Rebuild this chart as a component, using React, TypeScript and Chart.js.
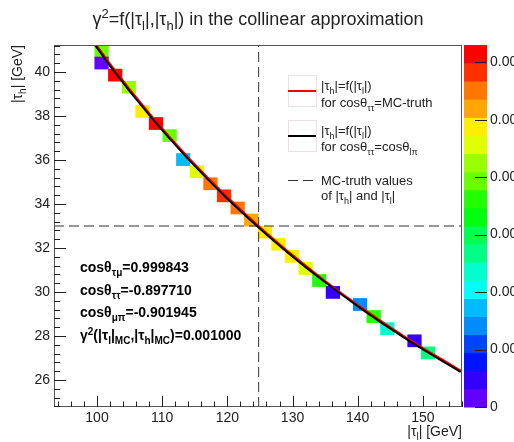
import React, { useEffect, useRef } from 'react';
import { Chart, registerables } from 'chart.js';

Chart.register(...registerables);

// ---- axis ranges / ticks ----
const xRange = [93.4, 156.0];
const yRange = [24.77, 41.23];
const xTicks = [100, 110, 120, 130, 140, 150];
const yTicks = [26, 28, 30, 32, 34, 36, 38, 40];
const xMinorStep = 2;
const yMinorStep = 0.4;

// ---- 2D histogram bins (centres, GeV) and contents ----
const binW = 2.087;
const binH = 0.5487;
const binX = [100.70, 100.70, 102.79, 104.88, 106.97, 109.05, 111.14, 113.23, 115.31, 117.40, 119.49, 121.58, 123.66, 125.75, 127.84, 129.93, 132.01, 134.10, 136.19, 140.36, 142.45, 144.54, 148.71, 150.80];
const binY = [40.96, 40.41, 39.86, 39.31, 38.21, 37.66, 37.11, 36.02, 35.47, 34.92, 34.37, 33.82, 33.27, 32.72, 32.17, 31.62, 31.07, 30.52, 29.98, 29.43, 28.88, 28.33, 27.78, 27.23];
const binZ = [0.000788, 0.000032, 0.001229, 0.000851, 0.000977, 0.001229, 0.000788, 0.000347, 0.000914, 0.001103, 0.001166, 0.001103, 0.001040, 0.000977, 0.000977, 0.000977, 0.000914, 0.000725, 0.000095, 0.000284, 0.000725, 0.000473, 0.000095, 0.000536];

// ---- colour scale ----
const zMax = 0.00126;
const zTicks = [0, 0.0002, 0.0004, 0.0006, 0.0008, 0.001, 0.0012];
const zTickLabels = ['0', '0.0002', '0.0004', '0.0006', '0.0008', '0.0010', '0.0012'];
const palette = ['#6300ff', '#3300ff', '#0014ff', '#0044ff', '#008bff', '#00bbff', '#00fffc', '#00ffcc', '#00ff85', '#00ff55', '#00ff0e', '#22ff00', '#69ff00', '#99ff00', '#e0ff00', '#ffee00', '#ffa700', '#ff7700', '#ff3000', '#ff0000'];

// ---- curves |τh| = f(|τl|) ----
const curveX = [99, 102, 105, 108, 111, 114, 117, 120, 123, 126, 129, 132, 135, 138, 141, 144, 147, 150, 153, 155.8];
const redY = [41.60, 40.37, 39.22, 38.13, 37.10, 36.12, 35.20, 34.32, 33.48, 32.68, 31.92, 31.20, 30.50, 29.84, 29.21, 28.60, 28.01, 27.45, 26.92, 26.43];
const blackY = [41.51, 40.28, 39.13, 38.05, 37.02, 36.04, 35.12, 34.24, 33.41, 32.61, 31.85, 31.13, 30.44, 29.78, 29.14, 28.53, 27.95, 27.39, 26.86, 26.37];

// ---- MC truth ----
const mcTauL = 124.8;
const mcTauH = 33.0;

// ---- texts ----
const titleText = 'γ^{2}=f(|τ_{l}|,|τ_{h}|) in the collinear approximation';
const xTitle = '|τ_{l}| [GeV]';
const yTitle = '|τ_{h}| [GeV]';
const infoLines = [
  'cosθ_{τμ}=0.999843',
  'cosθ_{ττ}=-0.897710',
  'cosθ_{μπ}=-0.901945',
  'γ^{2}(|τ_{l}|_{MC},|τ_{h}|_{MC})=0.001000',
];
const legendRed = ['|τ_{h}|=f(|τ_{l}|)', 'for cosθ_{ττ}=MC-truth'];
const legendBlack = ['|τ_{h}|=f(|τ_{l}|)', 'for cosθ_{ττ}=cosθ_{lπ}'];
const legendDash = ['MC-truth values', 'of |τ_{h}| and |τ_{l}|'];

const FAM = '"Liberation Sans", Arial, Helvetica, sans-serif';

function colorFor(z: number) {
  const i = Math.max(0, Math.min(palette.length - 1, Math.floor((z / zMax) * palette.length)));
  return palette[i];
}

type Seg = { t: string; m: number };
function parseRich(s: string): Seg[] {
  const out: Seg[] = [];
  let i = 0;
  let buf = '';
  while (i < s.length) {
    const c = s[i];
    if ((c === '_' || c === '^') && s[i + 1] === '{') {
      if (buf) { out.push({ t: buf, m: 0 }); buf = ''; }
      const end = s.indexOf('}', i + 2);
      out.push({ t: s.slice(i + 2, end), m: c === '_' ? 1 : 2 });
      i = end + 1;
    } else {
      buf += c;
      i++;
    }
  }
  if (buf) out.push({ t: buf, m: 0 });
  return out;
}

function drawRich(ctx: CanvasRenderingContext2D, s: string, x: number, y: number, size: number,
  opts: { bold?: boolean; align?: string; color?: string; rotate?: number } = {}) {
  const segs = parseRich(s);
  const w = opts.bold ? 'bold ' : '';
  const fontFor = (m: number) => `${w}${m === 0 ? size : Math.round(size * 0.7)}px ${FAM}`;
  let total = 0;
  const widths = segs.map((sg) => {
    ctx.font = fontFor(sg.m);
    const ww = ctx.measureText(sg.t).width;
    total += ww;
    return ww;
  });
  ctx.save();
  ctx.translate(x, y);
  if (opts.rotate) ctx.rotate(opts.rotate);
  let cx = opts.align === 'center' ? -total / 2 : opts.align === 'right' ? -total : 0;
  ctx.fillStyle = opts.color || '#000';
  ctx.textBaseline = 'alphabetic';
  ctx.textAlign = 'left';
  segs.forEach((sg, i) => {
    ctx.font = fontFor(sg.m);
    const dy = sg.m === 1 ? size * 0.3 : sg.m === 2 ? -size * 0.38 : 0;
    ctx.fillText(sg.t, cx, dy);
    cx += widths[i];
  });
  ctx.restore();
}

const decor = {
  id: 'rootDecor',
  beforeDraw(chart: any) {
    const ctx = chart.ctx;
    ctx.save();
    ctx.fillStyle = '#fff';
    ctx.fillRect(0, 0, chart.width, chart.height);
    ctx.restore();
  },
  afterDraw(chart: any) {
    const ctx: CanvasRenderingContext2D = chart.ctx;
    const { left, right, top, bottom } = chart.chartArea;
    const xs = chart.scales.x;
    const ys = chart.scales.y;
    const zs = chart.scales.z;
    ctx.save();

    // frame
    ctx.strokeStyle = '#555';
    ctx.lineWidth = 1;
    ctx.strokeRect(Math.round(left) + 0.5, Math.round(top) + 0.5, Math.round(right - left) - 1, Math.round(bottom - top) - 1);

    // ticks
    ctx.strokeStyle = '#222';
    ctx.beginPath();
    for (let n = Math.ceil(yRange[0] / yMinorStep); n * yMinorStep <= yRange[1]; n++) {
      const v = n * yMinorStep;
      const major = yTicks.some((t) => Math.abs(t - v) < 1e-6);
      const p = Math.round(ys.getPixelForValue(v)) + 0.5;
      ctx.moveTo(left, p);
      ctx.lineTo(left + (major ? 12 : 6), p);
    }
    for (let n = Math.ceil(xRange[0] / xMinorStep); n * xMinorStep <= xRange[1]; n++) {
      const v = n * xMinorStep;
      const major = xTicks.some((t) => Math.abs(t - v) < 1e-6);
      const p = Math.round(xs.getPixelForValue(v)) + 0.5;
      ctx.moveTo(p, bottom);
      ctx.lineTo(p, bottom - (major ? 11 : 5.5));
    }
    ctx.stroke();

    // tick labels
    ctx.fillStyle = '#222';
    ctx.font = `14px ${FAM}`;
    ctx.textBaseline = 'middle';
    ctx.textAlign = 'right';
    yTicks.forEach((t) => ctx.fillText(String(t), left - 4, ys.getPixelForValue(t)));
    ctx.textAlign = 'center';
    xTicks.forEach((t) => ctx.fillText(String(t), xs.getPixelForValue(t), bottom + 11));

    // axis titles
    drawRich(ctx, xTitle, right, bottom + 29, 14, { align: 'right', color: '#222' });
    drawRich(ctx, yTitle, 22, top, 14, { align: 'right', color: '#222', rotate: -Math.PI / 2 });

    // title
    drawRich(ctx, titleText, chart.width / 2 + 1, 25, 18, { align: 'center', color: '#222' });

    // palette
    const px0 = right + 2;
    const px1 = right + 25;
    for (let i = 0; i < palette.length; i++) {
      const z0 = (zMax * i) / palette.length;
      const z1 = (zMax * (i + 1)) / palette.length;
      const y0 = zs.getPixelForValue(z0);
      const y1 = zs.getPixelForValue(z1);
      ctx.fillStyle = palette[i];
      ctx.fillRect(px0, y1, px1 - px0, y0 - y1 + 0.5);
    }
    ctx.strokeStyle = '#222';
    ctx.beginPath();
    zTicks.forEach((z) => {
      const p = Math.round(zs.getPixelForValue(z)) + 0.5;
      ctx.moveTo(px1, p);
      ctx.lineTo(px1 - 12, p);
    });
    ctx.stroke();
    ctx.fillStyle = '#222';
    ctx.font = `14px ${FAM}`;
    ctx.textAlign = 'left';
    ctx.textBaseline = 'middle';
    zTicks.forEach((z, i) => ctx.fillText(zTickLabels[i], px1 + 3, zs.getPixelForValue(z)));

    // legend
    const lx0 = 288;
    const lx1 = 316;
    const tx = 321;
    ctx.strokeStyle = 'rgba(210,170,170,0.35)';
    ctx.lineWidth = 1;
    ctx.strokeRect(lx0 + 0.5, 75.5, lx1 - lx0, 31);
    ctx.strokeRect(lx0 + 0.5, 120.5, lx1 - lx0, 31);
    ctx.lineWidth = 2;
    ctx.strokeStyle = '#ff0000';
    ctx.beginPath(); ctx.moveTo(lx0, 91); ctx.lineTo(lx1, 91); ctx.stroke();
    ctx.strokeStyle = '#000';
    ctx.beginPath(); ctx.moveTo(lx0, 136); ctx.lineTo(lx1, 136); ctx.stroke();
    ctx.lineWidth = 1;
    ctx.strokeStyle = '#333';
    ctx.setLineDash([10, 5]);
    ctx.beginPath(); ctx.moveTo(lx0, 180.5); ctx.lineTo(lx1, 180.5); ctx.stroke();
    ctx.setLineDash([]);
    const ls = 13;
    drawRich(ctx, legendRed[0], tx, 90, ls, { color: '#222' });
    drawRich(ctx, legendRed[1], tx, 107, ls, { color: '#222' });
    drawRich(ctx, legendBlack[0], tx, 135, ls, { color: '#222' });
    drawRich(ctx, legendBlack[1], tx, 151, ls, { color: '#222' });
    drawRich(ctx, legendDash[0], tx, 185, ls, { color: '#222' });
    drawRich(ctx, legendDash[1], tx, 200, ls, { color: '#222' });

    // info text
    const infoY = [272, 295, 317, 340];
    infoLines.forEach((s, i) => drawRich(ctx, s, 80, infoY[i], 14, { bold: true, color: '#000' }));

    ctx.restore();
  },
};

export default function App() {
  const ref = useRef<HTMLCanvasElement | null>(null);
  useEffect(() => {
    document.body.style.margin = '0';
    document.body.style.overflow = 'hidden';
    const canvas = ref.current;
    if (!canvas) return;
    const chart = new Chart(canvas, {
      type: 'bar',
      data: {
        datasets: [
          {
            type: 'line',
            label: 'cosθ_lπ',
            data: curveX.map((x, i) => ({ x, y: blackY[i] })),
            borderColor: '#000000',
            borderWidth: 2,
            pointRadius: 0,
            order: 1,
          },
          {
            type: 'line',
            label: 'MC-truth cosθ_ττ',
            data: curveX.map((x, i) => ({ x, y: redY[i] })),
            borderColor: '#ff0000',
            borderWidth: 2,
            pointRadius: 0,
            order: 2,
          },
          {
            type: 'line',
            label: 'MC |τl|',
            data: [{ x: mcTauL, y: yRange[0] }, { x: mcTauL, y: yRange[1] }],
            borderColor: '#333333',
            borderWidth: 1,
            borderDash: [10, 5],
            pointRadius: 0,
            order: 3,
          },
          {
            type: 'line',
            label: 'MC |τh|',
            data: [{ x: xRange[0], y: mcTauH }, { x: xRange[1], y: mcTauH }],
            borderColor: '#333333',
            borderWidth: 1,
            borderDash: [10, 5],
            pointRadius: 0,
            order: 3,
          },
          {
            type: 'bar',
            label: 'γ²',
            data: binX.map((x, i) => ({ x, y: [binY[i] - binH / 2, binY[i] + binH / 2] })),
            backgroundColor: binZ.map(colorFor),
            borderWidth: 0,
            barThickness: 13.6,
            order: 4,
          },
        ],
      } as any,
      options: {
        animation: false,
        responsive: false,
        maintainAspectRatio: false,
        events: [],
        layout: { padding: { left: 54, top: 45, right: 52, bottom: 35 } },
        plugins: { legend: { display: false }, tooltip: { enabled: false }, title: { display: false } },
        scales: {
          x: { type: 'linear', min: xRange[0], max: xRange[1], display: false, offset: false },
          y: { type: 'linear', min: yRange[0], max: yRange[1], display: false },
          z: { type: 'linear', position: 'right', min: 0, max: zMax, display: false },
        },
      } as any,
      plugins: [decor],
    });
    return () => chart.destroy();
  }, []);
  return <canvas ref={ref} width={514} height={442} style={{ display: 'block', width: 514, height: 442 }} />;
}
